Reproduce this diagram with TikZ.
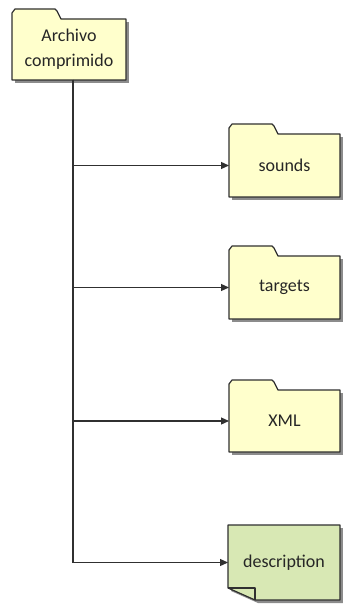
\documentclass[tikz,border=0pt]{standalone}
\usepackage{fontspec}
\setmainfont{Carlito}
\usetikzlibrary{calc,arrows.meta,backgrounds}
\definecolor{foldfill}{HTML}{FFFFCC}
\definecolor{notefill}{HTML}{D8E8B4}
\definecolor{edgecol}{HTML}{303030}
\definecolor{shadecol}{HTML}{8C8C8C}

\begin{document}
\begin{tikzpicture}[
  x=0.5pt, y=-0.5pt,
  box/.style={inner sep=0pt, outer sep=0pt, align=center, text=black!85,
    font=\fontsize{9}{12.5}\selectfont},
  shape line/.style={draw=edgecol, line width=0.6pt, line join=round},
  link/.style={draw=edgecol, line width=0.6pt, -{Triangle[length=4pt, width=3.5pt]}}
]
  \useasboundingbox (0,0) rectangle (342,608);

  % Archive and its contents
  \node[box, minimum width=57pt, minimum height=30.5pt] (arch) at (69, 49.5) {Archivo\\comprimido};
  \node[box, minimum width=55.5pt, minimum height=31.5pt] (sounds) at (284.5, 165.5) {sounds};
  \node[box, minimum width=55.5pt, minimum height=31.5pt] (targets) at (284.5, 287.5) {targets};
  \node[box, minimum width=55.5pt, minimum height=31pt] (xml) at (284.5, 421) {XML};
  \node[box, minimum width=56pt, minimum height=37.5pt] (desc) at (284, 562.5) {description};

  \coordinate (trunk) at ($(arch.south)+(4,0)$);

  % Connectors
  \foreach \n in {sounds, targets, xml, desc}
    \draw[link] (trunk) |- (\n.west);

  % Shapes behind the texts
  \begin{scope}[on background layer]
    \foreach \n in {arch, sounds, targets, xml} {
      \fill[shadecol] ($(\n.north west)+(3,3)$) rectangle ($(\n.south east)+(3,3)$);
      \filldraw[shape line, fill=foldfill] (\n.south west) -- (\n.north west)
        -- ++(0,-6) -- ++(3,-4) -- ++(40,0) -- ++(2,2) -- ++(4,8)
        -- (\n.north east) -- (\n.south east) -- cycle;
    }
    % note with folded corner
    \fill[shadecol] ($(desc.north west)+(3,3)$) -- ($(desc.north east)+(3,3)$)
      -- ($(desc.south east)+(3,3)$) -- ($(desc.south west)+(30,3)$)
      -- ($(desc.south west)+(3,-9)$) -- cycle;
    \filldraw[shape line, fill=notefill] (desc.north west) -- (desc.north east)
      -- (desc.south east) -- ($(desc.south west)+(27,0)$)
      -- ($(desc.south west)+(0,-12)$) -- cycle;
    \draw[shape line] ($(desc.south west)+(0,-12)$) -- ++(27,0) -- ++(0,12);
  \end{scope}
\end{tikzpicture}
\end{document}
